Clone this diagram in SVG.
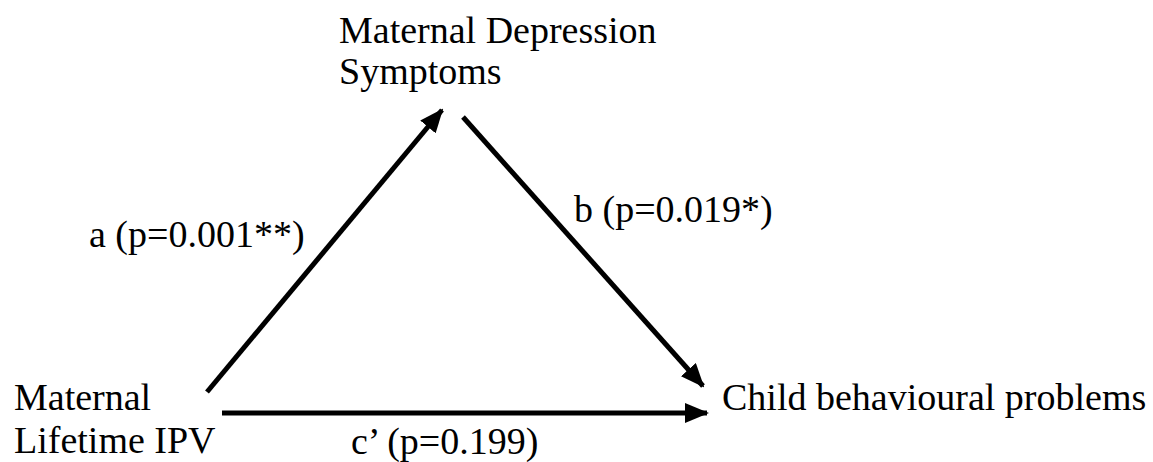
<svg xmlns="http://www.w3.org/2000/svg" width="1153" height="462" viewBox="0 0 1153 462">
<style>
text{font-family:"Liberation Serif","Times New Roman",serif;font-size:38px;fill:#000}
.edge{stroke:#000;stroke-width:5;fill:none}
</style>
<defs>
<marker id="ah" markerUnits="userSpaceOnUse" markerWidth="24" markerHeight="20" refX="22" refY="10" orient="auto">
<path d="M0,0 L24,10 L0,20 Z" fill="#000"/>
</marker>
</defs>
<rect width="1153" height="462" fill="#fff"/>
<g id="connectors">
<line class="edge" x1="207" y1="392" x2="442" y2="110" marker-end="url(#ah)"/>
<line class="edge" x1="463" y1="117" x2="703" y2="386" marker-end="url(#ah)"/>
<line class="edge" x1="222" y1="413" x2="707" y2="413" marker-end="url(#ah)"/>
<text x="89" y="247">a (p=0.001**)</text>
<text x="574" y="222">b (p=0.019*)</text>
<text x="351" y="454">c’ (p=0.199)</text>
</g>
<g id="node-depression">
<text x="339" y="43">Maternal Depression</text>
<text x="339" y="84">Symptoms</text>
</g>
<g id="node-ipv">
<text x="14" y="410">Maternal</text>
<text x="14" y="453">Lifetime IPV</text>
</g>
<g id="node-child">
<text x="722" y="410">Child behavioural problems</text>
</g>
</svg>
